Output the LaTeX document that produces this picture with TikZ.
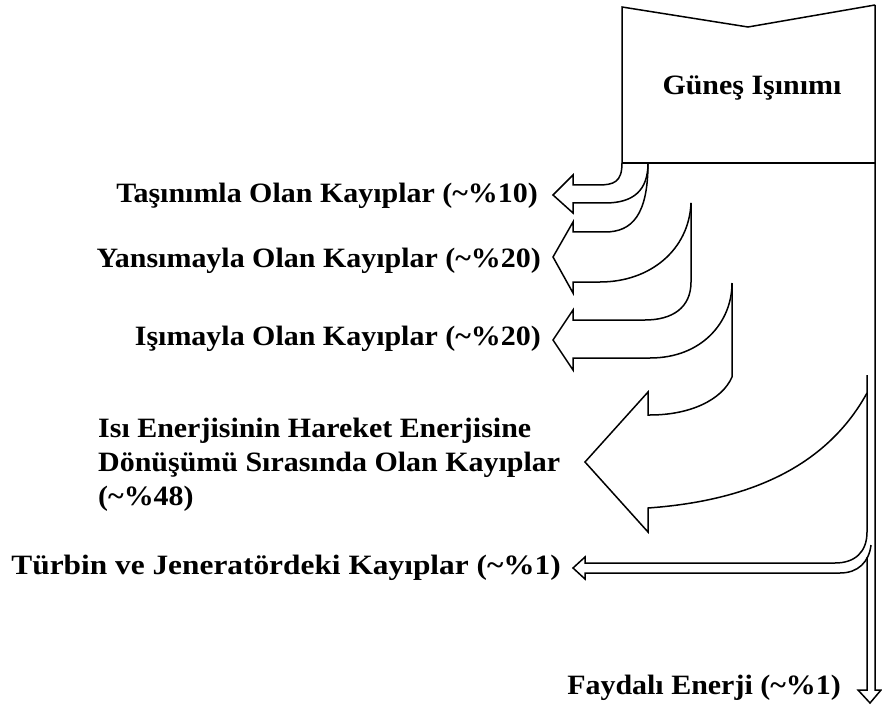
\documentclass[tikz,border=0pt]{standalone}
\usepackage{fontspec}
\setmainfont{Liberation Serif}[FakeStretch=1.07]
\usepackage{tikz}

\tikzset{
    flow/.style={line width=1.5pt, line join=miter},
    label/.style={font=\fontsize{28}{34}\selectfont\bfseries, inner sep=0pt}
}

\begin{document}
\begin{tikzpicture}[x=1pt,y=-1pt]
    \useasboundingbox (0,0) rectangle (882,708);
    \begin{scope}[flow]
    % Incoming radiation box:
    \draw (622,163) -- (622,7) -- (748,27) -- (875,5);
    \draw (622,163) -- (875,163);
    % Right edge of the main stream down to the last arrow:
    \draw (875,5) -- (875,690) -- (881,690) -- (870,703) -- (858,690) -- (867,690) -- (867,557);

    % Convection losses:
    \draw (622,163) .. controls (622,182) and (614,185) .. (598,185)
        -- (573,185) -- (573,175) -- (553,195) -- (573,213) -- (573,203)
        -- (605,203) .. controls (634,203) and (648,190) .. (648,163);
    % Reflection losses:
    \draw (648,163) .. controls (648,215) and (632,232) .. (605,232)
        -- (573,232) -- (573,222) -- (553,257) -- (573,293) -- (573,282)
        -- (600,282) .. controls (650,282) and (689,250) .. (691,203);
    % Radiation losses:
    \draw (691,203) -- (691,282) .. controls (691,308) and (672,320) .. (645,320)
        -- (573,320) -- (573,310) -- (553,340) -- (573,370) -- (573,358)
        -- (650,358) .. controls (702,358) and (732,322) .. (732,283);
    % Heat to motion losses:
    \draw (732,283) -- (732,377) .. controls (722,400) and (690,415) .. (650,415)
        -- (648,415) -- (648,392) -- (585,462) -- (648,532) -- (648,508)
        .. controls (760,500) and (830,460) .. (867,393);
    % Turbine and generator losses:
    \draw (867,375) -- (867,532) .. controls (867,552) and (855,563) .. (835,563)
        -- (585,563) -- (585,557) -- (573,568) -- (585,579) -- (585,573)
        -- (840,573) .. controls (858,573) and (869,562) .. (871,545);
    \end{scope}

    % Labels:
    \node[label] (gunes) at (752,88) {Güneş Işınımı};
    \node[label, anchor=east] (tasinim) at (538,196) {Taşınımla Olan Kayıplar (\textasciitilde\%10)};
    \node[label, anchor=east] (yansima) at (541,261) {Yansımayla Olan Kayıplar (\textasciitilde\%20)};
    \node[label, anchor=east] (isima) at (541,339) {Işımayla Olan Kayıplar (\textasciitilde\%20)};
    \node[
        label,
        anchor=west,
        align=left
        ] (donusum) at (98,465)
        {Isı Enerjisinin Hareket Enerjisine\\Dönüşümü Sırasında Olan Kayıplar\\(\textasciitilde\%48)};
    \node[label, anchor=east] (turbin) at (561,568) {\addfontfeatures{FakeStretch=1.12}Türbin ve Jeneratördeki Kayıplar (\textasciitilde\%1)};
    \node[label, anchor=east] (faydali) at (841,688) {Faydalı Enerji (\textasciitilde\%1)};
\end{tikzpicture}
\end{document}
